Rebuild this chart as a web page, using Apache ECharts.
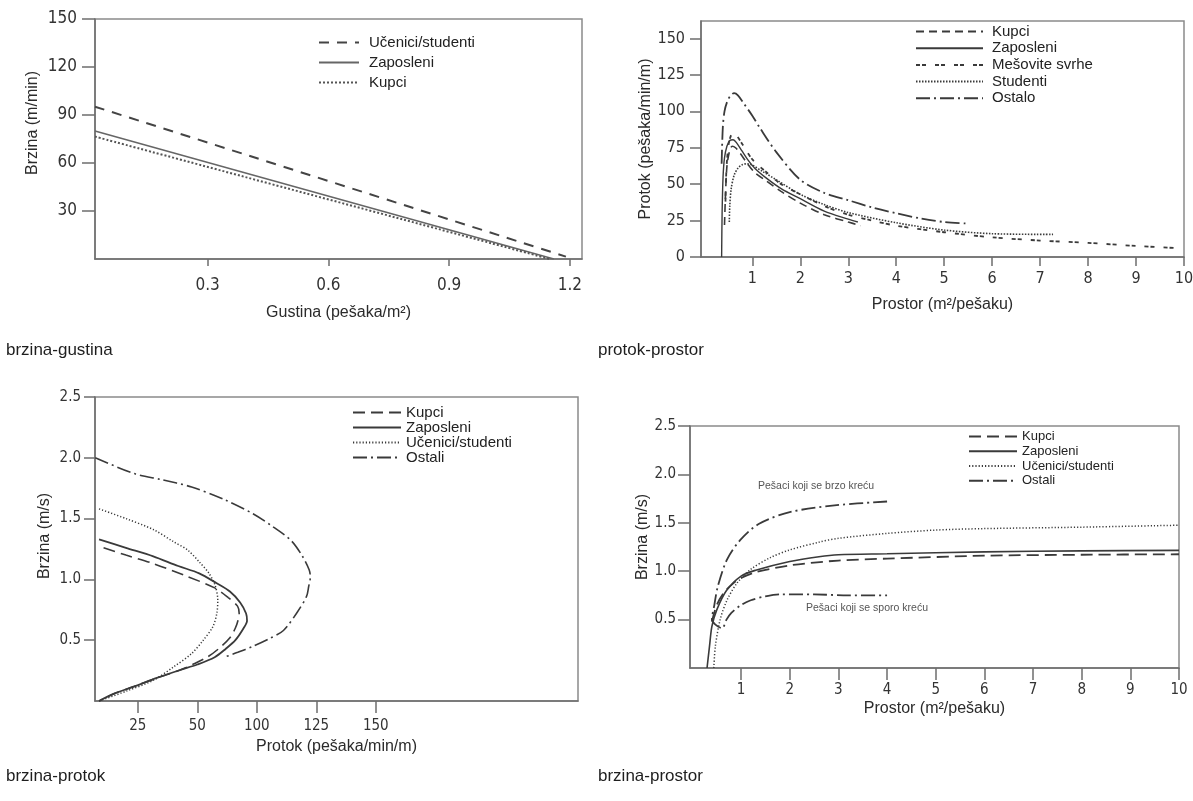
<!DOCTYPE html>
<html>
<head>
<meta charset="utf-8">
<script src="https://cdn.jsdelivr.net/npm/echarts@6/dist/echarts.min.js"></script>
<style>
  html, body { margin: 0; padding: 0; background: #ffffff; }
  #chart { width: 1193px; height: 801px; }
</style>
</head>
<body>
<div id="chart"></div>
<script>
// ---------- Captions under each panel ----------
const captions = ['brzina-gustina', 'protok-prostor', 'brzina-protok', 'brzina-prostor'];

// ---------- Panel 1: brzina (m/min) vs gustina (pešaka/m²) ----------
const gustinaUcenici   = [[0.02, 95.2], [1.19, 1.5]];
const gustinaZaposleni = [[0.02, 80], [1.16, 0]];
const gustinaKupci     = [[0.02, 76.5], [1.15, 0]];
const gustinaXTicks = [0.3, 0.6, 0.9, 1.2];
const gustinaYTicks = [30, 60, 90, 120, 150];

// ---------- Panel 2: protok (pešaka/min/m) vs prostor (m²/pešaku) ----------
const protokKupci = [[0.42,22],[0.44,42],[0.47,62],[0.52,72],[0.58,76],[0.65,75],[0.75,71],[0.9,64],[1.05,58],[1.3,52],[1.6,45],[2.0,37],[2.5,29],[3.0,24],[3.26,21.5]];
const protokZaposleni = [[0.36,0],[0.37,30],[0.39,55],[0.42,68],[0.47,76],[0.53,80],[0.6,80.5],[0.68,78],[0.78,73],[0.9,67],[1.05,61],[1.3,54],[1.6,47],[2.0,40],[2.5,31.5],[3.0,26],[3.2,24]];
const protokMesovite = [[0.44,38],[0.46,60],[0.5,76],[0.55,83],[0.6,85],[0.68,83],[0.8,77],[1.0,67],[1.3,58],[1.6,50],[2.0,43],[2.5,35],[3.0,29],[3.5,25],[4.0,21.5],[5.0,17],[6.0,13.5],[7.0,11.3],[8.0,9.7],[9.0,7.6],[9.9,6]];
const protokStudenti = [[0.52,24],[0.53,35],[0.56,47],[0.62,56],[0.7,61],[0.8,63.5],[0.9,64],[1.0,63],[1.2,59],[1.5,53],[2.0,43],[2.5,36],[3.0,30.5],[4.0,23.5],[5.0,18.5],[6.0,16],[7.27,15.5]];
const protokOstalo = [[0.36,64],[0.385,89],[0.42,100],[0.48,107],[0.55,111],[0.62,112.5],[0.7,111],[0.82,105.5],[1.0,97],[1.15,89],[1.5,72],[2.0,53],[2.5,44],[3.0,39],[3.5,34],[4.0,30],[4.5,26.5],[5.0,24],[5.5,23]];
const protokXTicks = [1, 2, 3, 4, 5, 6, 7, 8, 9, 10];
const protokYTicks = [0, 25, 50, 75, 100, 125, 150];

// ---------- Panel 3: brzina (m/s) vs protok (pešaka/min/m) ----------
// x positions are in axis units; tick positions and their printed labels are listed separately
const bpKupci = [[10.6,1.26],[20,1.2],[31.5,1.13],[45,1.03],[57.3,0.93],[63,0.85],[66.9,0.78],[67.6,0.72],[67.2,0.67],[66,0.6],[63.7,0.52],[59,0.43],[54.1,0.36],[48,0.3],[42.8,0.255],[33,0.19],[23.5,0.12],[15,0.06],[8.7,0]];
const bpZaposleni = [[8.7,1.33],[20,1.26],[31.5,1.19],[42,1.11],[50.8,1.05],[58,0.97],[63.7,0.9],[68,0.81],[70.5,0.72],[70.9,0.66],[69.5,0.6],[66,0.5],[62,0.43],[57.3,0.36],[50,0.3],[42.8,0.255],[33,0.19],[23.5,0.12],[15,0.06],[8.7,0]];
const bpUcenici = [[8.7,1.58],[20,1.5],[31.5,1.41],[40,1.31],[46,1.24],[51,1.14],[54.9,1.05],[57.5,0.95],[58.6,0.83],[58.2,0.72],[56.5,0.61],[52.5,0.5],[47.6,0.39],[40,0.28],[31.5,0.17],[20,0.08],[8.7,0]];
const bpOstali = [[7.1,2.0],[23.5,1.87],[35,1.82],[47.6,1.76],[61,1.66],[73.4,1.54],[82,1.43],[89.4,1.32],[94.2,1.19],[97,1.08],[97.5,1.02],[96.8,0.94],[95.9,0.86],[92,0.73],[86.2,0.58],[80,0.51],[73.4,0.45],[67,0.4],[61.3,0.36]];
const bpXTicks = [25, 50, 75, 100, 125];
const bpXTickLabels = ['25', '50', '100', '125', '150'];
const bpYTicks = [0.5, 1.0, 1.5, 2.0, 2.5];

// ---------- Panel 4: brzina (m/s) vs prostor (m²/pešaku) ----------
const bsKupci = [[0.4,0.48],[0.5,0.65],[0.65,0.78],[0.85,0.88],[1.0,0.93],[1.3,0.99],[2.0,1.06],[3.0,1.11],[4.0,1.13],[6.0,1.16],[8.0,1.17],[10,1.175]];
const bsZaposleni = [[0.3,0],[0.35,0.22],[0.4,0.43],[0.5,0.6],[0.7,0.8],[1.0,0.95],[1.3,1.01],[2.0,1.1],[2.6,1.15],[3.0,1.17],[4.0,1.18],[6.0,1.2],[8.0,1.21],[10,1.215]];
const bsUcenici = [[0.44,0],[0.47,0.22],[0.57,0.5],[0.71,0.7],[0.92,0.88],[1.2,1.02],[1.6,1.14],[2.0,1.22],[2.6,1.3],[3.0,1.34],[4.0,1.39],[5.0,1.425],[6.0,1.44],[8.0,1.455],[10,1.475]];
const bsOstali = [[4.0,1.72],[2.92,1.68],[2.0,1.61],[1.37,1.49],[0.98,1.32],[0.71,1.12],[0.52,0.84],[0.45,0.65],[0.4,0.5],[0.61,0.41],[0.7,0.5],[0.8,0.57],[1.0,0.65],[1.2,0.7],[1.5,0.74],[1.8,0.76],[2.5,0.76],[3.2,0.75],[4.0,0.75]];
const bsXTicks = [1, 2, 3, 4, 5, 6, 7, 8, 9, 10];
const bsYTicks = [0.5, 1.0, 1.5, 2.0, 2.5];
const bsNotes = ['Pešaci koji se brzo kreću', 'Pešaci koji se sporo kreću'];

// ---------- Styling helpers ----------
const NARROW = "'Liberation Sans Narrow', 'DejaVu Sans Condensed', 'Liberation Sans', sans-serif";
const SANS = "'Liberation Sans', Arial, sans-serif";
const AXIS_COLOR = '#6e6e6e';
const LINE_COLOR = '#3a3a3a';

function valueAxis(opts) {
  return {
    type: 'value',
    gridIndex: opts.grid,
    min: opts.min,
    max: opts.max,
    name: opts.name,
    nameLocation: 'middle',
    nameGap: opts.nameGap,
    nameTextStyle: { fontFamily: SANS, fontSize: opts.nameSize || 16, color: '#2b2b2b', padding: opts.namePadding || 0 },
    axisLine: { show: true, onZero: false, lineStyle: { color: AXIS_COLOR, width: 1.5 } },
    axisTick: { show: true, inside: false, length: opts.tickLen, customValues: opts.ticks,
                lineStyle: { color: AXIS_COLOR, width: 1.5 } },
    axisLabel: { show: true, customValues: opts.ticks, margin: opts.labelMargin,
                 fontFamily: NARROW, fontSize: opts.labelSize, color: '#333',
                 formatter: opts.formatter },
    splitLine: { show: false }
  };
}

function curve(name, xi, data, dash, width, color) {
  const c = color || LINE_COLOR;
  return {
    type: 'line', name: name, xAxisIndex: xi, yAxisIndex: xi, data: data,
    showSymbol: false, symbol: 'none', smooth: 0.3, silent: true,
    itemStyle: { color: c },
    lineStyle: { color: c, width: width || 1.6, type: dash }
  };
}

const legendName = n => n.split('|')[1];

const grids = [
  { left: 95,  top: 19,  width: 487, height: 240 },
  { left: 701, top: 21,  width: 483, height: 236 },
  { left: 95,  top: 397, width: 483, height: 304 },
  { left: 690, top: 426, width: 489, height: 242 }
].map(g => Object.assign(g, { show: true, borderColor: '#8a8a8a', borderWidth: 1.5, outerBoundsMode: 'none' }));

const option = {
  animation: false,
  backgroundColor: '#ffffff',
  title: [
    { text: captions[0], left: 6,   top: 342 },
    { text: captions[1], left: 598, top: 342 },
    { text: captions[2], left: 6,   top: 768 },
    { text: captions[3], left: 598, top: 768 }
  ].map(t => Object.assign(t, { padding: 0, textStyle: { fontFamily: SANS, fontSize: 17, fontWeight: 'normal', color: '#1e1e1e' } })),
  grid: grids,
  xAxis: [
    valueAxis({ grid: 0, min: 0.02, max: 1.23, ticks: gustinaXTicks, tickLen: 7, labelMargin: 18, labelSize: 17,
                name: 'Gustina (pešaka/m²)', nameGap: 46,
                formatter: v => v.toFixed(1) }),
    valueAxis({ grid: 1, min: -0.07, max: 10, ticks: protokXTicks, tickLen: 9, labelMargin: 14, labelSize: 16,
                name: 'Prostor (m²/pešaku)', nameGap: 40, formatter: v => String(v) }),
    valueAxis({ grid: 2, min: 7, max: 210, ticks: bpXTicks, tickLen: 12, labelMargin: 18, labelSize: 15,
                name: 'Protok (pešaka/min/m)', nameGap: 38,
                formatter: v => bpXTickLabels[bpXTicks.indexOf(v)] || '' }),
    valueAxis({ grid: 3, min: -0.05, max: 10, ticks: bsXTicks, tickLen: 12, labelMargin: 15, labelSize: 15,
                name: 'Prostor (m²/pešaku)', nameGap: 33, formatter: v => String(v) })
  ],
  yAxis: [
    valueAxis({ grid: 0, min: 0, max: 150, ticks: gustinaYTicks, tickLen: 13, labelMargin: 18, labelSize: 17,
                name: 'Brzina (m/min)', nameGap: 54, namePadding: [0, 0, 0, 32], formatter: v => String(v) }),
    valueAxis({ grid: 1, min: 0, max: 162, ticks: protokYTicks, tickLen: 11, labelMargin: 16, labelSize: 16,
                name: 'Protok (pešaka/min/m)', nameGap: 46, formatter: v => String(v) }),
    valueAxis({ grid: 2, min: 0, max: 2.5, ticks: bpYTicks, tickLen: 11, labelMargin: 14, labelSize: 15,
                name: 'Brzina (m/s)', nameGap: 42, namePadding: [0, 0, 0, 26], formatter: v => v.toFixed(1) }),
    valueAxis({ grid: 3, min: 0, max: 2.5, ticks: bsYTicks, tickLen: 12, labelMargin: 14, labelSize: 15,
                name: 'Brzina (m/s)', nameGap: 35, namePadding: [0, 0, 0, 20], formatter: v => v.toFixed(1) })
  ],
  legend: [
    { data: ['1|Učenici/studenti', '1|Zaposleni', '1|Kupci'], left: 318, top: 35,
      itemWidth: 40, itemHeight: 14, itemGap: 5, textStyle: { fontSize: 15, padding: [0, 0, 0, 5] } },
    { data: ['2|Kupci', '2|Zaposleni', '2|Mešovite svrhe', '2|Studenti', '2|Ostalo'], left: 915, top: 24,
      itemWidth: 67, itemHeight: 15, itemGap: 1.7, textStyle: { fontSize: 15, padding: [0, 0, 0, 4] } },
    { data: ['3|Kupci', '3|Zaposleni', '3|Učenici/studenti', '3|Ostali'], left: 352, top: 405,
      itemWidth: 48, itemHeight: 14, itemGap: 0, textStyle: { fontSize: 15, lineHeight: 14, padding: [0, 0, 0, 0] } },
    { data: ['4|Kupci', '4|Zaposleni', '4|Učenici/studenti', '4|Ostali'], left: 968, top: 429,
      itemWidth: 48, itemHeight: 14.8, itemGap: 0, textStyle: { fontSize: 13, lineHeight: 14.8, padding: [0, 0, 0, 0] } }
  ].map(l => Object.assign(l, {
    orient: 'vertical', selectedMode: false, padding: 0,
    itemStyle: { opacity: 0 },
    formatter: legendName,
    textStyle: Object.assign({ fontFamily: SANS, color: '#222' }, l.textStyle)
  })),
  graphic: [
    { type: 'text', left: 758, top: 481, style: { text: bsNotes[0], font: "10.5px 'Liberation Sans', Arial, sans-serif", fill: '#555' } },
    { type: 'text', left: 806, top: 603, style: { text: bsNotes[1], font: "10.5px 'Liberation Sans', Arial, sans-serif", fill: '#555' } }
  ],
  series: [
    curve('1|Učenici/studenti', 0, gustinaUcenici, [10, 8], 2, '#444'),
    curve('1|Zaposleni', 0, gustinaZaposleni, 'solid', 1.6, '#666'),
    curve('1|Kupci', 0, gustinaKupci, [2, 2], 2, '#555'),

    curve('2|Kupci', 1, protokKupci, [8, 5], 1.6),
    curve('2|Zaposleni', 1, protokZaposleni, 'solid', 1.4),
    curve('2|Mešovite svrhe', 1, protokMesovite, [4, 2, 4, 9], 1.8),
    curve('2|Studenti', 1, protokStudenti, [1.5, 1.5], 1.6),
    curve('2|Ostalo', 1, protokOstalo, [14, 4, 2, 4], 1.8),

    curve('3|Kupci', 2, bpKupci, [12, 6], 1.6),
    curve('3|Zaposleni', 2, bpZaposleni, 'solid', 1.8),
    curve('3|Učenici/studenti', 2, bpUcenici, [1.2, 2], 1.5),
    curve('3|Ostali', 2, bpOstali, [14, 4, 2, 4], 1.6),

    curve('4|Kupci', 3, bsKupci, [12, 6], 1.8),
    curve('4|Zaposleni', 3, bsZaposleni, 'solid', 1.6),
    curve('4|Učenici/studenti', 3, bsUcenici, [1.2, 2], 1.5),
    curve('4|Ostali', 3, bsOstali, [14, 4, 2, 4], 1.8)
  ]
};

const chart = echarts.init(document.getElementById('chart'), null, { renderer: 'canvas' });
chart.setOption(option);
</script>
</body>
</html>
